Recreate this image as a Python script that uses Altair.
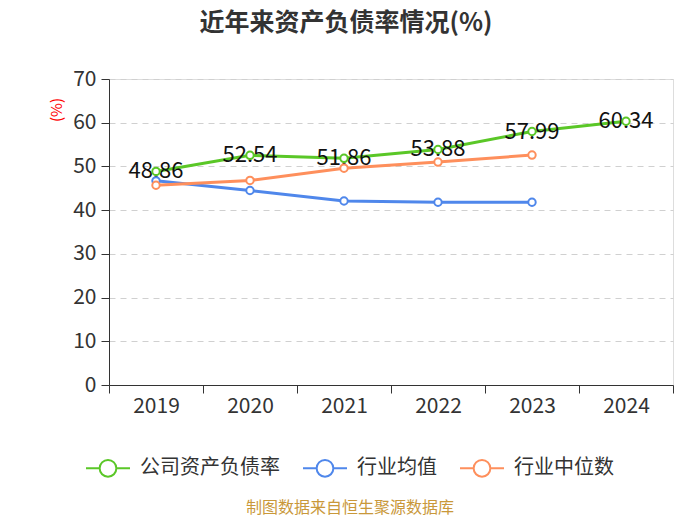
import altair as alt
import pandas as pd

years = ["2019", "2020", "2021", "2022", "2023", "2024"]
company = [48.86, 52.54, 51.86, 53.88, 57.99, 60.34]
industry_mean = [46.7, 44.5, 42.1, 41.8, 41.8]
industry_median = [45.7, 46.8, 49.6, 51.0, 52.6]
series_names = ["公司资产负债率", "行业均值", "行业中位数"]
series_colors = ["#5ac727", "#4f87eb", "#fe8f5c"]
y_ticks = [0, 10, 20, 30, 40, 50, 60, 70]
title_text = "近年来资产负债率情况(%)"
unit_text = "(%)"
source_text = "制图数据来自恒生聚源数据库"

rows = []
for s, vals in zip(series_names, [company, industry_mean, industry_median]):
    for yr, v in zip(years, vals):
        rows.append({"year": yr, "series": s, "value": v})
df = pd.DataFrame(rows)
comp_df = df[df["series"] == series_names[0]]

FONT = "Noto Sans CJK SC"

x_enc = alt.X(
    "year:N",
    sort=years,
    bandPosition=0.5,
    scale=alt.Scale(type="band", domain=years, paddingInner=0, paddingOuter=0),
    axis=alt.Axis(
        title=None, labelAngle=0, tickBand="extent", grid=False,
        domainColor="#333333", tickColor="#333333", tickSize=8,
        labelFont=FONT, labelFontSize=21, labelColor="#333333", labelPadding=2,
    ),
)
y_enc = alt.Y(
    "value:Q",
    scale=alt.Scale(domain=[0, 70], nice=False, zero=True),
    axis=alt.Axis(
        title=None, values=y_ticks, grid=True, gridColor="#d0d0d0", gridDash=[6, 5],
        domainColor="#333333", tickColor="#333333", tickSize=8,
        labelFont=FONT, labelFontSize=21, labelColor="#333333", labelPadding=5,
    ),
)
legend_path = "M-1,0L-0.38,0M0.38,0L1,0M0.38,0A0.38,0.38,0,1,1,-0.38,0A0.38,0.38,0,1,1,0.38,0"
color_enc = alt.Color(
    "series:N",
    scale=alt.Scale(domain=series_names, range=series_colors),
    legend=alt.Legend(
        title=None, orient="none", legendX=-24, legendY=366, direction="horizontal",
        symbolType=legend_path, symbolSize=1936, symbolStrokeWidth=2,
        symbolFillColor="white", labelFont=FONT, labelFontSize=20,
        labelColor="#333333", labelOffset=9, columnPadding=19, padding=0,
        labelLimit=300,
    ),
)

base = alt.Chart(df)
lines = base.mark_line(strokeWidth=3).encode(x=x_enc, y=y_enc, color=color_enc)
labels = alt.Chart(comp_df).mark_text(
    font=FONT, fontSize=22, color="#111111", align="center", baseline="middle"
).encode(x=x_enc, y=y_enc, text=alt.Text("value:Q", format=".2f"))
points = base.mark_point(
    shape="circle", size=55, filled=False, fill="white", strokeWidth=2, opacity=1
).encode(x=x_enc, y=y_enc, color=color_enc)

title_layer = alt.Chart(pd.DataFrame({"t": [title_text]})).mark_text(
    font=FONT, fontSize=25, fontWeight="bold", color="#333333",
    align="center", baseline="middle"
).encode(x=alt.value(237), y=alt.value(-56), text="t:N")
unit_layer = alt.Chart(pd.DataFrame({"t": [unit_text]})).mark_text(
    font=FONT, fontSize=15, color="#ff0000", align="center",
    baseline="middle", angle=270
).encode(x=alt.value(-52), y=alt.value(31), text="t:N")
source_layer = alt.Chart(pd.DataFrame({"t": [source_text]})).mark_text(
    font=FONT, fontSize=16, color="#c9983a", align="center", baseline="middle"
).encode(x=alt.value(241), y=alt.value(429), text="t:N")

chart = alt.layer(
    lines, labels, points, title_layer, unit_layer, source_layer
).properties(
    width=564, height=306,
    autosize=alt.AutoSizeParams(type="none"),
    padding={"left": 101, "top": 71, "right": 19, "bottom": 132},
).configure_view(stroke=None).configure(background="white")

chart.save("out.html", embed_options={"renderer": "svg", "actions": False})
